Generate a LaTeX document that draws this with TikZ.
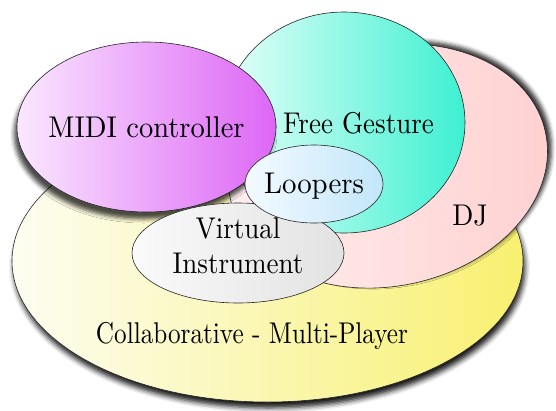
\documentclass[tikz,border=0pt]{standalone}
\usepackage{fontspec}
\newfontfamily\labfont{lmroman10-regular}[Extension=.otf]
\usetikzlibrary{shapes.geometric,shadows.blur}
\definecolor{collabL}{HTML}{FDFDF2}
\definecolor{collabR}{HTML}{F8F070}
\definecolor{djL}{HTML}{FFF0F0}
\definecolor{djR}{HTML}{FFD0D0}
\definecolor{freeL}{HTML}{E6FFF8}
\definecolor{freeR}{HTML}{3EF0D2}
\definecolor{midiL}{HTML}{FAE8FF}
\definecolor{midiR}{HTML}{DD66F5}
\definecolor{virtL}{HTML}{FAFAFA}
\definecolor{virtR}{HTML}{E2E2E2}
\definecolor{loopL}{HTML}{F4FAFF}
\definecolor{loopR}{HTML}{C2E6FA}
\tikzset{
  blob/.style={ellipse, draw=black!85, line width=0.6pt, inner sep=0pt},
  lab/.style={font=\labfont\fontsize{30}{35}\selectfont, align=center, inner sep=0pt},
}
\begin{document}
\begin{tikzpicture}[x=1pt,y=-1pt]
\useasboundingbox (0,0) rectangle (556,410);
\node[blob, minimum width=511, minimum height=282, left color=collabL, right color=collabR,
  blur shadow={shadow xshift=2pt, shadow yshift=-6pt, shadow blur radius=5pt, shadow opacity=90}] (collab) at (267.5,261) {};
\node[blob, minimum width=322, minimum height=240, rotate=12, left color=djL, right color=djR,
  blur shadow={shadow xshift=4pt, shadow yshift=3pt, shadow blur radius=4pt, shadow opacity=80}] (dj) at (388,166) {};
\node[blob, minimum width=242, minimum height=221, left color=freeL, right color=freeR] (free) at (344,122.5) {};
\node[blob, minimum width=259, minimum height=170, left color=midiL, right color=midiR,
  blur shadow={shadow xshift=-3pt, shadow yshift=-7pt, shadow blur radius=4pt, shadow opacity=70}] (midi) at (146.5,127) {};
\node[blob, minimum width=212, minimum height=100, left color=virtL, right color=virtR] (virt) at (238,253) {};
\node[blob, minimum width=138, minimum height=78, left color=loopL, right color=loopR] (loop) at (314,184) {};
\node[lab, anchor=base] (tmidi) at (146.5,137) {\scalebox{0.95}[1]{MIDI controller}};
\node[lab, anchor=base] (tfree) at (358.5,133) {\scalebox{0.9}[1]{Free Gesture}};
\node[lab, anchor=base] (tloop) at (314,193) {\scalebox{0.96}[1]{Loopers}};
\node[lab] (tvirt) at (238,249) {\scalebox{0.9}[1]{\begin{tabular}{@{}c@{}}Virtual\\Instrument\end{tabular}}};
\node[lab, anchor=base] (tdj) at (470,225) {\scalebox{0.92}[1]{DJ}};
\node[lab, anchor=base] (tcollab) at (252,343) {\scalebox{0.84}[1]{Collaborative - Multi-Player}};
\end{tikzpicture}
\end{document}
